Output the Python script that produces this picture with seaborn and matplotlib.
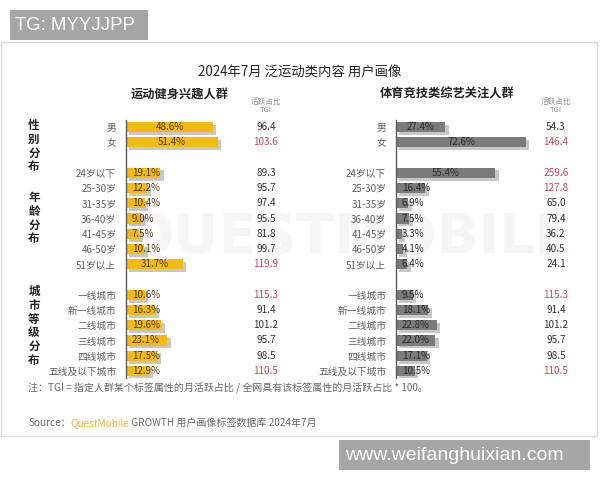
import matplotlib
matplotlib.use("Agg")
import matplotlib.pyplot as plt
import matplotlib.patheffects as pe
from matplotlib.patches import Rectangle
import pandas as pd
import seaborn as sns

sns.set_style("white")
plt.rcParams["font.family"] = ["Noto Sans CJK SC", "DejaVu Sans"]

# ---- data -------------------------------------------------------------
gender_labels = ["男", "女"]
age_labels = ["24岁以下", "25-30岁", "31-35岁", "36-40岁", "41-45岁", "46-50岁", "51岁以上"]
city_labels = ["一线城市", "新一线城市", "二线城市", "三线城市", "四线城市", "五线及以下城市"]

fitness_share = [48.6, 51.4,
                 19.1, 12.2, 10.4, 9.0, 7.5, 10.1, 31.7,
                 10.6, 16.3, 19.6, 23.1, 17.5, 12.9]
fitness_tgi = [96.4, 103.6,
               89.3, 95.7, 97.4, 95.5, 81.8, 99.7, 119.9,
               115.3, 91.4, 101.2, 95.7, 98.5, 110.5]

variety_share = [27.4, 72.6,
                 55.4, 16.4, 6.9, 7.5, 3.3, 4.1, 6.4,
                 9.5, 18.1, 22.8, 22.0, 17.1, 10.5]
variety_tgi = [54.3, 146.4,
               259.6, 127.8, 65.0, 79.4, 36.2, 40.5, 24.1,
               115.3, 91.4, 101.2, 95.7, 98.5, 110.5]

group_titles = ["性别分布", "年龄分布", "城市等级分布"]

categories = gender_labels + age_labels + city_labels
# blank rows separate the three groups
order = gender_labels + [" "] + age_labels + ["  "] + city_labels

fitness_df = pd.DataFrame({"category": categories, "share": fitness_share, "tgi": fitness_tgi})
variety_df = pd.DataFrame({"category": categories, "share": variety_share, "tgi": variety_tgi})

# ---- layout helpers ---------------------------------------------------
W, H = 600, 480
PX = 1.79          # pixels per percentage point
fig = plt.figure(figsize=(6, 4.8), dpi=100)


def fx(px):
    return px / W


def fy(py):
    return 1 - py / H


GRAY_TXT = "#5f5f5f"
RED = "#c8465a"

# card frame and faint background watermark
fig.patches.append(Rectangle((fx(1), fy(436)), fx(596), (436 - 42) / H,
                             transform=fig.transFigure, fill=False,
                             edgecolor="#dadada", lw=1.0, zorder=-2))
fig.text(fx(350), fy(238), "QUESTMOBILE", ha="center", va="center",
         fontsize=40, fontweight="bold", color="#f5f5f5", zorder=-1,
         family=["DejaVu Sans"])

# axes geometry: top of axis line at y=120px, bottom at 378px
ax_bottom, ax_top = 378, 120
n_rows = len(order)
half = (ax_bottom - ax_top - (n_rows - 1) * 15.25) / 2 / 15.25


def make_panel(left_px, width_px, df, color, txt_color, tgi_px):
    ax = fig.add_axes([fx(left_px), fy(ax_bottom), width_px / W, (ax_bottom - ax_top) / H])
    ax.set_zorder(2)
    ax.set_facecolor("none")
    sns.barplot(data=df, y="category", x="share", order=order, color=color,
                width=0.68, ax=ax, saturation=1, errorbar=None)
    for patch in ax.patches:
        patch.set_edgecolor("none")
        patch.set_path_effects([pe.SimplePatchShadow(offset=(2.5, -2), shadow_rgbFace="#9a9a9a", alpha=0.55),
                                pe.Normal()])
    ax.set_xlim(0, width_px / PX)
    ax.set_ylim(n_rows - 1 + half, -half)
    ax.set_xlabel("")
    ax.set_ylabel("")
    ax.set_xticks([])
    for s in ["top", "right", "bottom"]:
        ax.spines[s].set_visible(False)
    ax.spines["left"].set_color("#595959")
    ax.spines["left"].set_linewidth(1.0)
    ax.tick_params(axis="y", length=0, pad=7, labelsize=7, labelcolor=GRAY_TXT)
    tgi_x = (tgi_px - left_px) / PX
    for _, row in df.iterrows():
        pos = order.index(row["category"])
        v = row["share"]
        label = f"{v:.1f}%"
        if v < 25:
            ax.text(3.3, pos, label, ha="left", va="center", fontsize=7, color=txt_color, zorder=5)
        else:
            ax.text(v / 2, pos, label, ha="center", va="center", fontsize=7, color=txt_color, zorder=5)
        ax.text(tgi_x, pos, f"{row['tgi']:.1f}", ha="center", va="center", fontsize=7.2,
                color=RED if row["tgi"] > 103 else "#333333", clip_on=False)
    return ax


make_panel(126, 170, fitness_df, "#f5b914", "#4a3b10", 266)
make_panel(396, 185, variety_df, "#7b7b7b", "#2b2b2b", 556)

# titles
fig.text(fx(300), fy(73), "2024年7月 泛运动类内容 用户画像", ha="center", va="center",
         fontsize=9.6, color="#222222")
fig.text(fx(180), fy(95), "运动健身兴趣人群", ha="center", va="center",
         fontsize=8.8, fontweight="bold", color="#222222")
fig.text(fx(447), fy(94), "体育竞技类综艺关注人群", ha="center", va="center",
         fontsize=8.8, fontweight="bold", color="#222222")
for x in (266, 556):
    fig.text(fx(x), fy(106), "活跃占比\nTGI", ha="center", va="center",
             fontsize=5.5, color="#8a8a8a", linespacing=1.0)

# vertical group titles
for title, yc in zip(group_titles, (146, 218, 326)):
    fig.text(fx(34), fy(yc), "\n".join(title), ha="center", va="center",
             fontsize=8.3, fontweight="bold", color="#222222", linespacing=1.08)

# footnote
fig.text(fx(28), fy(388), "注：TGI = 指定人群某个标签属性的月活跃占比 / 全网具有该标签属性的月活跃占比 * 100。",
         ha="left", va="center", fontsize=7.2, color="#666666")

# source line, pieced together so the brand name can take its own colour
fig.canvas.draw()
renderer = fig.canvas.get_renderer()
x_cursor = fx(28)
for piece, col in (("Source：", "#666666"), ("QuestMobile", "#f2b13a"),
                   (" GROWTH 用户画像标签数据库 2024年7月", "#666666")):
    t = fig.text(x_cursor, fy(423), piece, ha="left", va="center", fontsize=7.2, color=col)
    bb = t.get_window_extent(renderer=renderer)
    x_cursor += bb.width / W

# corner tags
fig.patches.append(Rectangle((fx(10), fy(40)), fx(138), 30 / H, transform=fig.transFigure,
                             facecolor="#a6a6a6", edgecolor="none", zorder=3))
fig.text(fx(15), fy(25), "TG: MYYJJPP", ha="left", va="center", fontsize=13.4,
         color="white", family=["Liberation Sans"], zorder=4)
fig.patches.append(Rectangle((fx(339), fy(470)), fx(251), 30 / H, transform=fig.transFigure,
                             facecolor="#a6a6a6", edgecolor="none", zorder=3))
fig.text(fx(345), fy(455), "www.weifanghuixian.com", ha="left", va="center", fontsize=14,
         color="white", family=["Liberation Sans"], zorder=4)

fig.savefig("out.png", dpi=100)
